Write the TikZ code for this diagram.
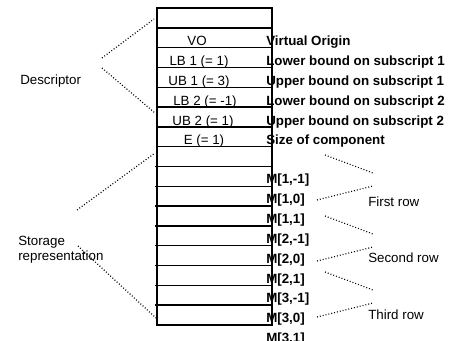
\documentclass[tikz,border=0pt]{standalone}
\usepackage{fontspec}
\setmainfont{Liberation Sans}
\usepackage{tikz}

\begin{document}
\begin{tikzpicture}[x=0.75pt,y=-0.75pt,
  every node/.style={inner sep=0pt,font=\fontsize{10}{11.25}\selectfont},
  lab/.style={anchor=base west,font=\fontsize{10}{12}\selectfont\bfseries},
  celltext/.style={anchor=base},
  dots/.style={line width=0.9pt,dash pattern=on 0.7pt off 1.5pt}]
  \useasboundingbox (0,0) rectangle (450,341);
  \node[draw,line width=1.2pt,minimum width=86.25pt,minimum height=237.75pt] (col) at (214.5,166.5) {};
  \foreach \k in {1,...,7}
    \draw[line width=1.1pt] (157,8+19.8125*\k) -- (272,8+19.8125*\k);
  \foreach \k in {8,...,15}
    \draw[line width=1.1pt] (155,8+19.8125*\k) -- (272,8+19.8125*\k);
  \foreach \k/\cx/\cel/\desc in {1/197/VO/Virtual Origin,
      2/199/LB 1 (= 1)/Lower bound on subscript 1,
      3/199/UB 1 (= 3)/Upper bound on subscript 1,
      4/205/LB 2 (= -1)/Lower bound on subscript 2,
      5/203/UB 2 (= 1)/Upper bound on subscript 2,
      6/204/E (= 1)/Size of component} {
    \node[celltext] (cell\k) at (\cx,26+19.8125*\k) {\cel};
    \node[lab] (desc\k) at (266,26+19.8125*\k) {\desc};
  }
  \foreach \k/\m in {8/{1,-1},9/{1,0},10/{1,1},11/{2,-1},12/{2,0},13/{2,1},14/{3,-1},15/{3,0},16/{3,1}}
    \node[lab] (m\k) at (266,25.5+19.8125*\k) {M[\m]};
  \node[anchor=base west] (descr) at (20,85) {Descriptor};
  \node[anchor=west,align=left] (stor) at (18,250) {Storage\\representation};
  \node[anchor=base west] (row1) at (368,207) {First row};
  \node[anchor=base west] (row2) at (368,263) {Second row};
  \node[anchor=base west] (row3) at (368,320) {Third row};
  \coordinate (d1a) at (102,58);  \coordinate (d1b) at (154,19);
  \coordinate (d2a) at (102,68);  \coordinate (d2b) at (155,113);
  \coordinate (s1a) at (77,210);  \coordinate (s1b) at (155,153);
  \coordinate (s2a) at (78,246);  \coordinate (s2b) at (156,318);
  \draw[dots] (d1a) -- (d1b);
  \draw[dots] (d2a) -- (d2b);
  \draw[dots] (s1a) -- (s1b);
  \draw[dots] (s2a) -- (s2b);
  \foreach \r/\dy in {1/0,2/61,3/117} {
    \coordinate (r\r a) at (325,155+\dy); \coordinate (r\r b) at (373,173+\dy);
    \coordinate (r\r c) at (317,200+\dy); \coordinate (r\r d) at (373,186+\dy);
    \draw[dots] (r\r a) -- (r\r b);
    \draw[dots] (r\r c) -- (r\r d);
  }
\end{tikzpicture}
\end{document}
